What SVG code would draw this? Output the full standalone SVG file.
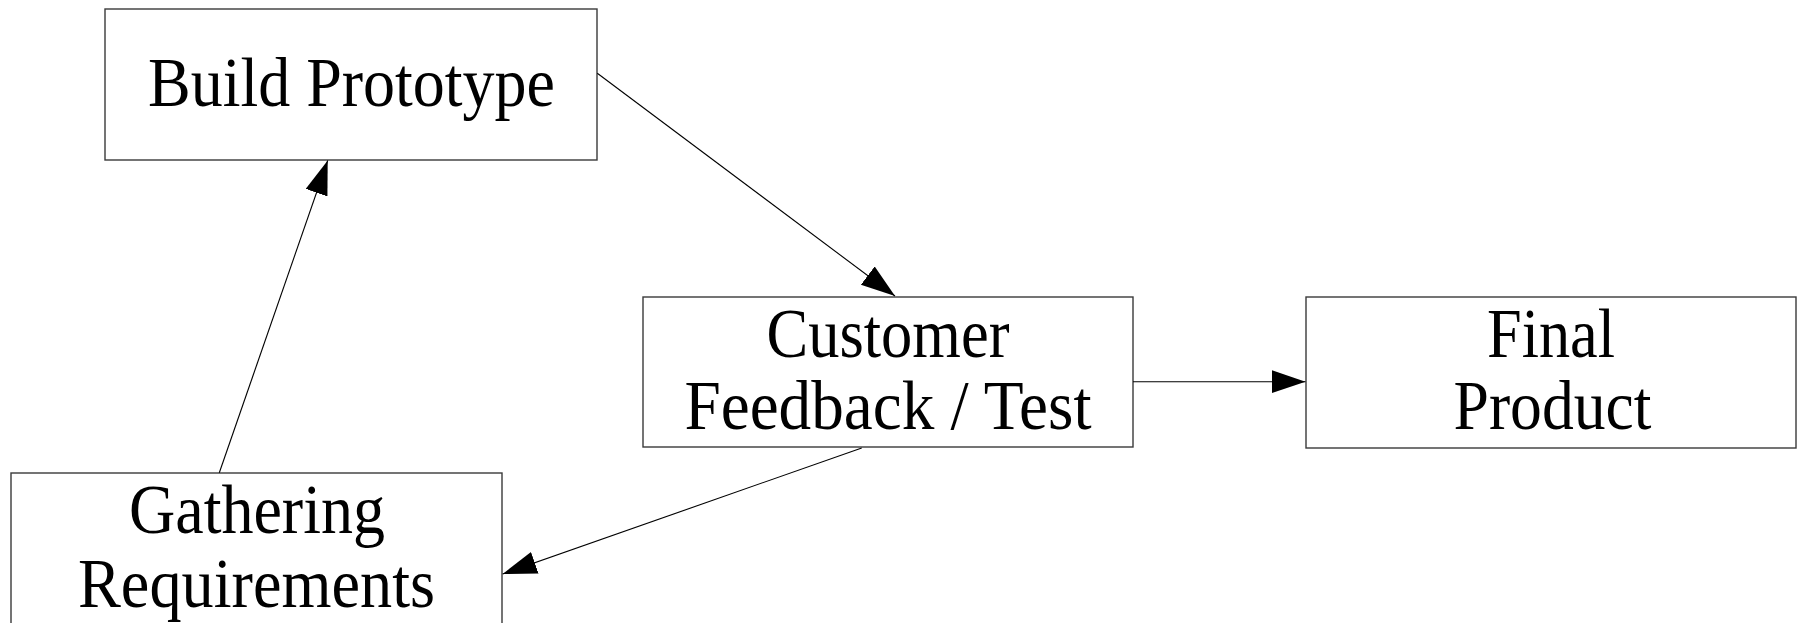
<svg xmlns="http://www.w3.org/2000/svg" width="1797" height="623" viewBox="0 0 1797 623">
  <style>
    .box { fill: #ffffff; stroke: #3a3a3a; stroke-width: 1.4; }
    .label { font-family: "Liberation Serif", "Times New Roman", serif; font-size: 70px; fill: #000000; text-anchor: middle; }
    .edge { fill: none; stroke: #000000; stroke-width: 1.1; marker-end: url(#arrow); }
  </style>
  <defs>
    <marker id="arrow" markerUnits="userSpaceOnUse" markerWidth="38" markerHeight="26" refX="34" refY="11.5" orient="auto">
      <path d="M0,0 L34,11.5 L0,23 Z" fill="#000000"/>
    </marker>
  </defs>
  <rect width="1797" height="623" fill="#ffffff"/>

  <g id="build-prototype">
    <rect class="box" x="105" y="9" width="492" height="151"/>
    <text class="label" x="351.5" y="106" textLength="407" lengthAdjust="spacingAndGlyphs">Build Prototype</text>
  </g>

  <g id="customer-feedback">
    <rect class="box" x="643" y="297" width="490" height="150"/>
    <text class="label" x="888" y="357" textLength="243" lengthAdjust="spacingAndGlyphs">Customer</text>
    <text class="label" x="888" y="428.5" textLength="407" lengthAdjust="spacingAndGlyphs">Feedback / Test</text>
  </g>

  <g id="final-product">
    <rect class="box" x="1306" y="297" width="490" height="151"/>
    <text class="label" x="1551" y="357" textLength="128" lengthAdjust="spacingAndGlyphs">Final</text>
    <text class="label" x="1552.5" y="429" textLength="198" lengthAdjust="spacingAndGlyphs">Product</text>
  </g>

  <g id="gathering-requirements">
    <rect class="box" x="11" y="473" width="491" height="152"/>
    <text class="label" x="257" y="532.5" textLength="256" lengthAdjust="spacingAndGlyphs">Gathering</text>
    <text class="label" x="256.5" y="606.5" textLength="357" lengthAdjust="spacingAndGlyphs">Requirements</text>
  </g>

  <g id="connectors">
    <line class="edge" x1="597.3" y1="73.3" x2="895" y2="296"/>
    <line class="edge" x1="219.3" y1="472.7" x2="327.7" y2="160.5"/>
    <line class="edge" x1="861.7" y1="448" x2="502.7" y2="574"/>
    <line class="edge" x1="1133" y1="381.7" x2="1305.5" y2="381.7"/>
  </g>
</svg>
